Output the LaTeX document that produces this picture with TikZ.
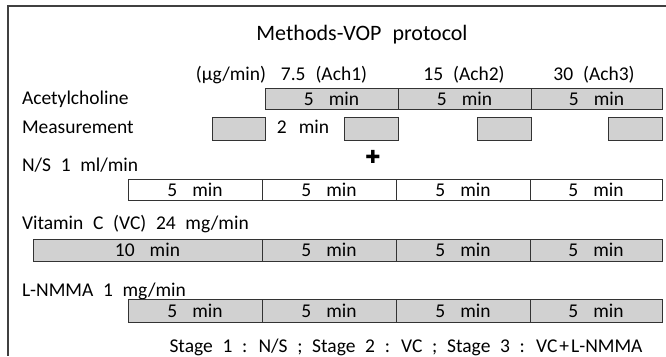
\documentclass[tikz,border=0pt]{standalone}
\usepackage{fontspec}
\setmainfont{Carlito}[WordSpace=2.2]
\newfontfamily\symfont{DejaVu Sans}
% duration label inside a bar
\newcommand\dur[1]{#1\hspace{15pt}min}
\begin{document}
\begin{tikzpicture}[x=1pt,y=-1pt,
  every node/.style={font=\fontsize{19.5}{22}\selectfont, inner sep=0pt, outer sep=0pt},
  lbl/.style={anchor=base west},
  hdr/.style={anchor=base},
  seg/.style={draw=black!80, line width=0.7pt, anchor=north west, minimum height=21},
  gseg/.style={seg, fill=black!18},
  wseg/.style={seg, fill=white}]
\useasboundingbox (0,0) rectangle (666,356);
% frame (top and left edges)
\draw[line width=1.4pt, black!75] (666,6) -- (8,6) -- (8,356);

% title and dose header
\node[hdr, font=\fontsize{22}{26}\selectfont] (title) at (362,40) {Methods-VOP protocol};
\node[hdr] (unit) at (231,80) {(µg/min)};
\node[hdr] (d1) at (324,80) {7.5\hspace{10pt}(Ach1)};
\node[hdr] (d2) at (464,80) {15\hspace{10pt}(Ach2)};
\node[hdr] (d3) at (594,80) {30\hspace{10pt}(Ach3)};

% acetylcholine infusion
\node[lbl] (lach) at (22,104) {Acetylcholine};
\node[gseg, minimum width=133] (a1) at (265,88) {\dur{5}};
\node[gseg, minimum width=133] (a2) at (398,88) {\dur{5}};
\node[gseg, minimum width=131] (a3) at (531,88) {\dur{5}};

% measurement windows
\node[lbl] (lmeas) at (22,133) {Measurement};
\node[gseg, minimum width=53, minimum height=23] (m0) at (212,117) {};
\node[hdr] (mt) at (303,133) {2\hspace{12pt}min};
\node[gseg, minimum width=54, minimum height=23] (m1) at (344,117) {};
\node[gseg, minimum width=54, minimum height=23] (m2) at (477,117) {};
\node[gseg, minimum width=54, minimum height=23] (m3) at (608,117) {};
\node[font=\symfont\fontsize{18}{18}\selectfont] (plus) at (373,157) {✚};

% normal saline
\node[lbl] (lns) at (22,171) {N/S 1 ml/min};
\node[wseg, minimum width=134] (n1) at (128,179) {\dur{5}};
\node[wseg, minimum width=134] (n2) at (262,179) {\dur{5}};
\node[wseg, minimum width=134] (n3) at (396,179) {\dur{5}};
\node[wseg, minimum width=132] (n4) at (530,179) {\dur{5}};

% vitamin C
\node[lbl] (lvc) at (22,229) {Vitamin C (VC) 24 mg/min};
\node[gseg, minimum width=229, minimum height=22] (v1) at (33,239) {\dur{10}};
\node[gseg, minimum width=134, minimum height=22] (v2) at (262,239) {\dur{5}};
\node[gseg, minimum width=134, minimum height=22] (v3) at (396,239) {\dur{5}};
\node[gseg, minimum width=132, minimum height=22] (v4) at (530,239) {\dur{5}};

% L-NMMA
\node[lbl] (lnm) at (22,296) {L-NMMA 1 mg/min};
\node[gseg, minimum width=134, minimum height=23] (l1) at (128,299) {\dur{5}};
\node[gseg, minimum width=134, minimum height=23] (l2) at (262,299) {\dur{5}};
\node[gseg, minimum width=134, minimum height=23] (l3) at (396,299) {\dur{5}};
\node[gseg, minimum width=132, minimum height=23] (l4) at (530,299) {\dur{5}};

\node[hdr] (stage) at (406,352) {Stage 1 : N/S ; Stage 2 : VC ; Stage 3 : VC{\kern2pt}+{\kern2pt}L-NMMA};
\end{tikzpicture}
\end{document}
